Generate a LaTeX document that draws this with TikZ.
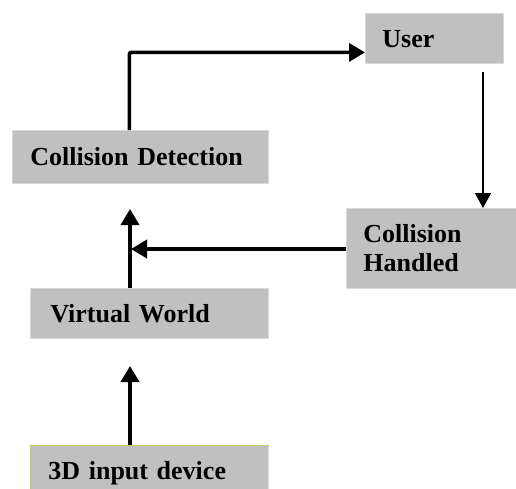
\documentclass[tikz,border=0pt]{standalone}
\usepackage{fontspec}
\setmainfont{Liberation Serif}
\usetikzlibrary{arrows.meta}
\definecolor{boxfill}{RGB}{192,192,192}
\definecolor{boxedge}{RGB}{216,216,216}
\definecolor{oliveedge}{RGB}{200,200,110}
\tikzset{
  box/.style={draw=boxedge, line width=0.8pt, fill=boxfill, anchor=north west,
    align=left, inner ysep=0pt, font=\fontsize{26}{29}\selectfont\bfseries},
  oneline/.style={text height=18pt, text depth=0pt},
  heavy/.style={line width=3.6pt, -{Triangle[length=16pt,width=18pt]}},
  light/.style={line width=1.3pt, -{Triangle[length=15pt,width=16pt]}}
}
\begin{document}
\begin{tikzpicture}[x=1pt,y=-1pt]
  \useasboundingbox (0,0) rectangle (516,488);

  % blocks
  \node[box, oneline, minimum height=53pt, inner xsep=18pt, text width=220pt]
    (cd) at (12,130) {Collision Detection};
  \node[box, oneline, minimum height=50pt, inner xsep=17pt, text width=104pt]
    (user) at (365,13) {User};
  \node[box, minimum height=80pt, inner xsep=17pt, text width=138pt]
    (ch) at (346,208) {Collision\\Handled};
  \node[box, oneline, minimum height=50pt, inner xsep=20pt, text width=198pt]
    (vw) at (30,288) {Virtual World};
  \node[box, oneline, minimum height=50pt, inner xsep=18pt, text width=202pt]
    (dev) at (30,445) {3D input device};
  % olive rim on the top and left of the input block
  \draw[oliveedge, line width=0.8pt] (dev.south west) -- (dev.north west) -- (dev.north east);

  % free ends of the connectors
  \coordinate (ustart) at (483,72);
  \coordinate (cdjoin) at (131,249);
  \coordinate (cdfeed) at (130,209);
  \coordinate (vwfeed) at (130,366);

  % connectors
  \draw[heavy, rounded corners=2pt] ([xshift=-11pt]cd.north) |- ([yshift=-14pt]user.west);
  \draw[light] (ustart) -- (ch.north -| ustart);
  \draw[heavy] (ch.west |- cdjoin) -- (cdjoin);
  \draw[heavy] (vw.north -| cdfeed) -- (cdfeed);
  \draw[heavy] (dev.north -| vwfeed) -- (vwfeed);
\end{tikzpicture}
\end{document}
